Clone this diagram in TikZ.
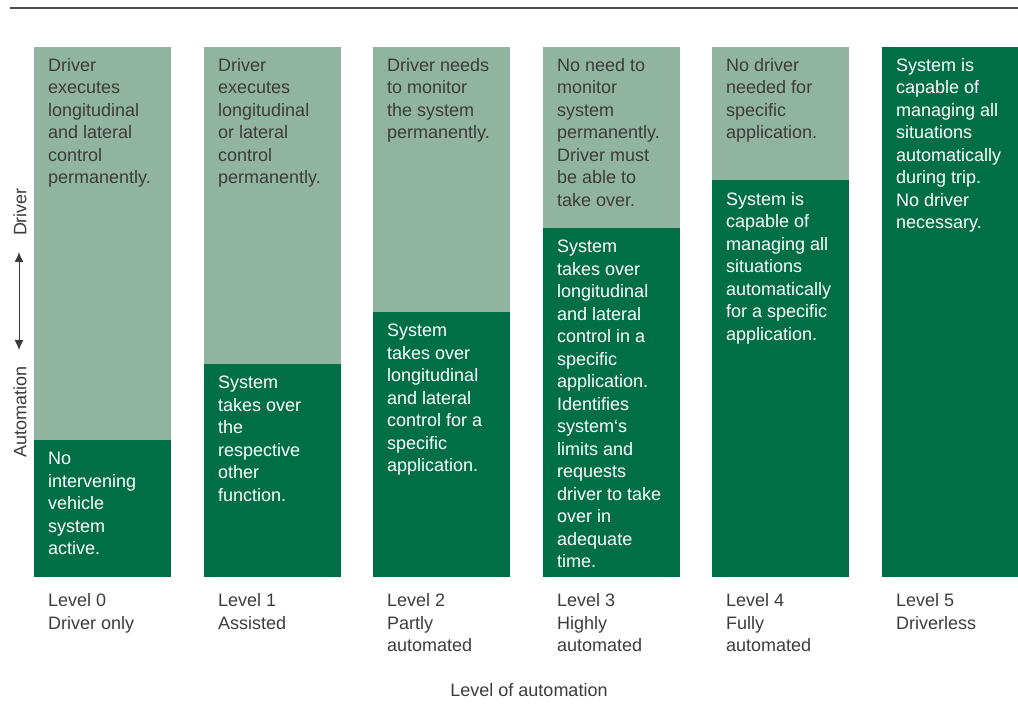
\documentclass[tikz,border=0pt]{standalone}
\usepackage{fontspec}
\setmainfont{Liberation Sans}
\usepackage{xcolor}
\usepackage{tikz}
\usetikzlibrary{arrows,arrows.meta,positioning}
\definecolor{drvgreen}{HTML}{90B4A0}
\definecolor{autgreen}{HTML}{006E46}
\definecolor{txtgray}{HTML}{3C3C3C}
\tikzset{
  part/.style={rectangle, inner sep=0pt, anchor=north west, minimum width=137pt},
  drvbox/.style={part, fill=drvgreen},
  autbox/.style={part, fill=autgreen},
  boxtext/.style={inner sep=0pt, align=left, font=\fontsize{18}{22.5}\selectfont},
  drvtext/.style={boxtext, text=txtgray},
  auttext/.style={boxtext, text=white},
  lvltext/.style={boxtext, text=txtgray},
  axistext/.style={inner sep=0pt, text=txtgray, font=\fontsize{18}{22.5}\selectfont},
  axisarrow/.style={{Latex[length=10pt,width=9pt]}-{Latex[length=10pt,width=9pt]}, txtgray, line width=1pt}
}
\begin{document}
\begin{tikzpicture}[x=1pt,y=-1pt]
	\useasboundingbox (0,0) rectangle (1018,711);
	\coordinate (rulel) at (10,8);
	\coordinate (ruler) at (1018,8);
	\draw[line width=1.6pt, black!70] (rulel) -- (ruler);

	\node[drvbox, minimum height=393pt] (drv0) at (34,47) {};
	\node[autbox, minimum height=137pt] (aut0) at (34,440) {};
	\node[drvbox, minimum height=317pt] (drv1) at (204,47) {};
	\node[autbox, minimum height=213pt] (aut1) at (204,364) {};
	\node[drvbox, minimum height=265pt] (drv2) at (373,47) {};
	\node[autbox, minimum height=265pt] (aut2) at (373,312) {};
	\node[drvbox, minimum height=181pt] (drv3) at (543,47) {};
	\node[autbox, minimum height=349pt] (aut3) at (543,228) {};
	\node[drvbox, minimum height=133pt] (drv4) at (712,47) {};
	\node[autbox, minimum height=397pt] (aut4) at (712,180) {};
	\node[autbox, minimum height=530pt] (aut5) at (882,47) {};

	\node[drvtext, below right=11pt and 14pt of drv0.north west] (drvtxt0)
		{Driver\\executes\\longitudinal\\and lateral\\control\\permanently.};
	\node[auttext, below right=12pt and 14pt of aut0.north west] (auttxt0)
		{No\\intervening\\vehicle\\system\\active.};
	\node[drvtext, below right=11pt and 14pt of drv1.north west] (drvtxt1)
		{Driver\\executes\\longitudinal\\or lateral\\control\\permanently.};
	\node[auttext, below right=12pt and 14pt of aut1.north west] (auttxt1)
		{System\\takes over\\the\\respective\\other\\function.};
	\node[drvtext, below right=11pt and 14pt of drv2.north west] (drvtxt2)
		{Driver needs\\to monitor\\the system\\permanently.};
	\node[auttext, below right=12pt and 14pt of aut2.north west] (auttxt2)
		{System\\takes over\\longitudinal\\and lateral\\control for a\\specific\\application.};
	\node[drvtext, below right=11pt and 14pt of drv3.north west] (drvtxt3)
		{No need to\\monitor\\system\\permanently.\\Driver must\\be able to\\take over.};
	\node[auttext, below right=12pt and 14pt of aut3.north west] (auttxt3)
		{System\\takes over\\longitudinal\\and lateral\\control in a\\specific\\application.\\Identifies\\system‘s\\limits and\\requests\\driver to take\\over in\\adequate\\time.};
	\node[drvtext, below right=11pt and 14pt of drv4.north west] (drvtxt4)
		{No driver\\needed for\\specific\\application.};
	\node[auttext, below right=12pt and 14pt of aut4.north west] (auttxt4)
		{System is\\capable of\\managing all\\situations\\automatically\\for a specific\\application.};
	\node[auttext, below right=11pt and 14pt of aut5.north west] (auttxt5)
		{System is\\capable of\\managing all\\situations\\automatically\\during trip.\\No driver\\necessary.};

	\node[lvltext, below right=16pt and 14pt of aut0.south west] (lvl0) {Level 0\\Driver only};
	\node[lvltext, below right=16pt and 14pt of aut1.south west] (lvl1) {Level 1\\Assisted};
	\node[lvltext, below right=16pt and 14pt of aut2.south west] (lvl2) {Level 2\\Partly\\automated};
	\node[lvltext, below right=16pt and 14pt of aut3.south west] (lvl3) {Level 3\\Highly\\automated};
	\node[lvltext, below right=16pt and 14pt of aut4.south west] (lvl4) {Level 4\\Fully\\automated};
	\node[lvltext, below right=16pt and 14pt of aut5.south west] (lvl5) {Level 5\\Driverless};

	\node[axistext, anchor=north] (xaxis) at (529,683) {Level of automation};

	\node[axistext, rotate=90] (ydrv) at (20,212) {Driver};
	\node[axistext, rotate=90] (yaut) at (20,412) {Automation};
	\coordinate (arrtop) at (19,252);
	\coordinate (arrbot) at (19,350);
	\draw[axisarrow] (arrtop) -- (arrbot);
\end{tikzpicture}
\end{document}
